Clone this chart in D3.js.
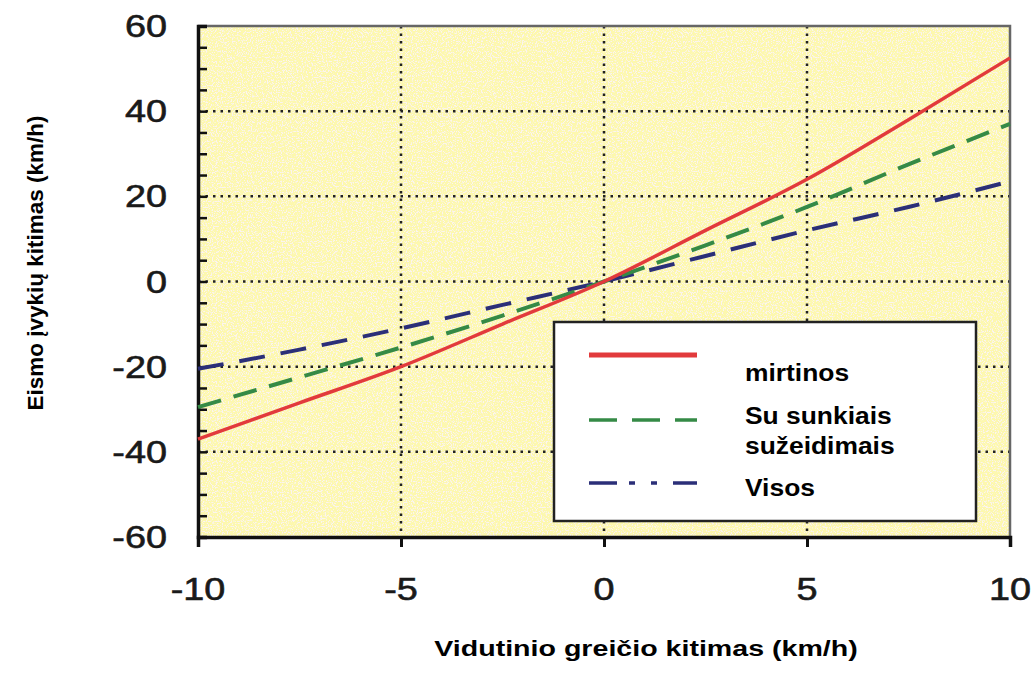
<!DOCTYPE html>
<html>
<head>
<meta charset="utf-8">
<script src="https://cdn.jsdelivr.net/npm/d3@7"></script>
<style>
  body { margin: 0; background: #fff; }
  svg text { font-family: "Liberation Sans", Arial, sans-serif; }
</style>
</head>
<body>
<div id="chart"></div>
<script>
// data
const speed = [-10, -7.5, -5, -2.5, 0, 2.5, 5, 7.5, 10];
const mirtinos = [-37, -28.5, -20, -10, 0, 12, 24, 38, 52.5];
const sunkiais = [-29.5, -22.5, -15.5, -8, 0, 8.5, 17.5, 27.5, 37];
const visos = [-20.5, -16, -11, -5.5, 0, 6, 12, 17.5, 23.5];
const xTicks = [-10, -5, 0, 5, 10];
const yTicks = [-60, -40, -20, 0, 20, 40, 60];
const legendLabels = [["mirtinos"], ["Su sunkiais", "sužeidimais"], ["Visos"]];

const width = 1034, height = 675;
const margin = {top: 26, right: 24, bottom: 138, left: 198};

const svg = d3.select("#chart").append("svg")
    .attr("width", width)
    .attr("height", height);

const x = d3.scaleLinear().domain([-10, 10]).range([margin.left, width - margin.right]);
const y = d3.scaleLinear().domain([-60, 60]).range([height - margin.bottom, margin.top]);

// speckled yellow background
const defs = svg.append("defs");
const noise = defs.append("filter").attr("id", "speckle")
    .attr("x", 0).attr("y", 0).attr("width", 1).attr("height", 1);
noise.append("feTurbulence")
    .attr("type", "fractalNoise").attr("baseFrequency", 0.8)
    .attr("numOctaves", 2).attr("seed", 3).attr("result", "n");
noise.append("feColorMatrix")
    .attr("in", "n").attr("type", "matrix")
    .attr("values", "0 0 0 0 0.96  0 0 0 0 0.9  0 0 0 0 0.88  0 0 0 7 -3.6")
    .attr("result", "dots");
noise.append("feComposite").attr("in", "dots").attr("in2", "SourceGraphic").attr("operator", "in")
    .attr("result", "clipped");
noise.append("feMerge").call(m => {
    m.append("feMergeNode").attr("in", "SourceGraphic");
    m.append("feMergeNode").attr("in", "clipped");
});

svg.append("rect")
    .attr("x", x(-10)).attr("y", y(60))
    .attr("width", x(10) - x(-10)).attr("height", y(-60) - y(60))
    .attr("fill", "#fdf8ae")
    .attr("filter", "url(#speckle)");

// dotted grid
svg.append("g").selectAll("line")
    .data(xTicks.filter(d => d > -10 && d < 10))
    .enter().append("line")
    .attr("x1", d => x(d)).attr("x2", d => x(d))
    .attr("y1", y(60)).attr("y2", y(-60))
    .attr("stroke", "#222").attr("stroke-width", 2.5)
    .attr("stroke-dasharray", "2.5,5");

svg.append("g").selectAll("line")
    .data(yTicks.filter(d => d > -60 && d < 60))
    .enter().append("line")
    .attr("x1", x(-10)).attr("x2", x(10))
    .attr("y1", d => y(d)).attr("y2", d => y(d))
    .attr("stroke", "#222").attr("stroke-width", 2.5)
    .attr("stroke-dasharray", "2.5,5");

// top / right frame
svg.append("path")
    .attr("d", `M${x(-10)},${y(60)}H${x(10)}V${y(-60)}`)
    .attr("fill", "none").attr("stroke", "#666").attr("stroke-width", 2.5);

// y axis: minor ticks inside
const yAxis = d3.axisRight(y)
    .tickValues(d3.range(-60, 61, 5))
    .tickSize(9)
    .tickFormat("");
svg.append("g")
    .attr("transform", `translate(${x(-10)},0)`)
    .call(yAxis)
    .call(g => g.selectAll("line").attr("stroke", "#111").attr("stroke-width", 2.5))
    .call(g => g.select(".domain").attr("stroke", "#111").attr("stroke-width", 3.5));

svg.append("g").selectAll("text")
    .data(yTicks)
    .enter().append("text")
    .attr("transform", d => `translate(${x(-10) - 31},${y(d) + 11}) scale(1.22,1)`)
    .attr("text-anchor", "end")
    .attr("font-size", 31)
    .attr("fill", "#1a1a1a")
    .attr("stroke", "#1a1a1a").attr("stroke-width", 0.6)
    .text(d => d);

// x axis: ticks outside
const xAxis = d3.axisBottom(x)
    .tickValues(xTicks)
    .tickSize(10)
    .tickFormat("");
svg.append("g")
    .attr("transform", `translate(0,${y(-60)})`)
    .call(xAxis)
    .call(g => g.selectAll("line").attr("stroke", "#111").attr("stroke-width", 3))
    .call(g => g.select(".domain").attr("stroke", "#111").attr("stroke-width", 3.5));

svg.append("g").selectAll("text")
    .data(xTicks)
    .enter().append("text")
    .attr("transform", d => `translate(${x(d)},${y(-60) + 63}) scale(1.22,1)`)
    .attr("text-anchor", "middle")
    .attr("font-size", 31)
    .attr("fill", "#1a1a1a")
    .attr("stroke", "#1a1a1a").attr("stroke-width", 0.6)
    .text(d => d);

// series
const series = [
    {values: mirtinos, color: "#e23a3c", dash: null, w: 3.5},
    {values: sunkiais, color: "#358a46", dash: "24,13", w: 4},
    {values: visos, color: "#2b2f78", dash: "26,16", w: 4}
];

const line = d3.line()
    .curve(d3.curveMonotoneX)
    .x((d, i) => x(speed[i]))
    .y(d => y(d));

svg.append("g").selectAll("path")
    .data(series.slice().reverse())
    .enter().append("path")
    .attr("d", d => line(d.values))
    .attr("fill", "none")
    .attr("stroke", d => d.color)
    .attr("stroke-width", d => d.w)
    .attr("stroke-dasharray", d => d.dash);

// legend
const legend = svg.append("g");
legend.append("rect")
    .attr("x", 554).attr("y", 322)
    .attr("width", 422).attr("height", 199)
    .attr("fill", "#fff")
    .attr("stroke", "#222").attr("stroke-width", 2.5);

const legendLineY = [355, 420, 483];
const legendTextY = [[381], [424, 454], [496]];
const legendDash = [null, "28,15", "28,12,6,16,6,16"];

series.forEach((s, i) => {
    legend.append("line")
        .attr("x1", 589).attr("x2", 697)
        .attr("y1", legendLineY[i]).attr("y2", legendLineY[i])
        .attr("stroke", s.color)
        .attr("stroke-width", i === 0 ? 5 : 3.5)
        .attr("stroke-dasharray", legendDash[i]);
    legendLabels[i].forEach((t, j) => {
        legend.append("text")
            .attr("transform", `translate(745,${legendTextY[i][j]}) scale(1.1,1)`)
            .attr("font-size", 24).attr("font-weight", "bold")
            .attr("fill", "#000")
            .text(t);
    });
});

// axis titles
svg.append("text")
    .attr("transform", "translate(646,656) scale(1.3,1)")
    .attr("text-anchor", "middle")
    .attr("font-size", 22).attr("font-weight", "bold")
    .text("Vidutinio greičio kitimas (km/h)");

svg.append("text")
    .attr("transform", "translate(43,263) rotate(-90)")
    .attr("text-anchor", "middle")
    .attr("font-size", 22.5).attr("font-weight", "bold")
    .text("Eismo įvykių kitimas (km/h)");
</script>
</body>
</html>
